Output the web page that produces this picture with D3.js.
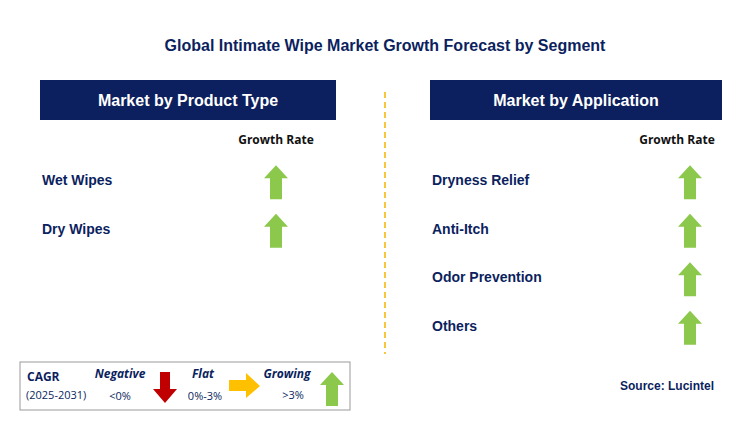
<!DOCTYPE html>
<html><head><meta charset="utf-8">
<script src="https://cdn.jsdelivr.net/npm/d3@7"></script>
<style>body{margin:0;background:#fff}</style>
</head><body><svg id="chart"></svg>
<script>
const title = 'Global Intimate Wipe Market Growth Forecast by Segment';
const productTypes = ['Wet Wipes', 'Dry Wipes'];
const productGrowth = ['up', 'up'];
const applications = ['Dryness Relief', 'Anti-Itch', 'Odor Prevention', 'Others'];
const applicationGrowth = ['up', 'up', 'up', 'up'];

const width = 746, height = 429;
const navy = '#0c1f5e', green = '#8cc84b';
const svg = d3.select('#chart').attr('width', width).attr('height', height)
  .style('font-family', 'Arial, "Liberation Sans", sans-serif');

svg.append('text').attr('x', 385).attr('y', 51).attr('text-anchor', 'middle')
  .attr('fill', navy).attr('font-size', 16).attr('font-weight', 'bold').text(title);

// row positions shared by both panels
const y = d3.scaleBand().domain(d3.range(4)).range([156, 350]);

function upArrow(g, cx, cy) {
  g.append('path').attr('fill', green)
    .attr('d', `M${cx},${cy - 17} L${cx + 12},${cy - 4} L${cx + 6},${cy - 4} L${cx + 6},${cy + 17} L${cx - 6},${cy + 17} L${cx - 6},${cy - 4} L${cx - 12},${cy - 4} Z`);
}

function panel(x0, w, header, names, growth, arrowX, labelX) {
  const g = svg.append('g');
  g.append('rect').attr('x', x0).attr('y', 80).attr('width', w).attr('height', 40).attr('fill', navy);
  g.append('text').attr('x', x0 + w / 2).attr('y', 106).attr('text-anchor', 'middle')
    .attr('fill', '#fff').attr('font-size', 16).attr('font-weight', 'bold').text(header);
  g.append('text').attr('x', labelX).attr('y', 144).attr('text-anchor', 'middle')
    .attr('font-family', 'Open Sans, sans-serif').attr('font-size', 12).attr('font-weight', 'bold')
    .attr('fill', '#111').text('Growth Rate');
  names.forEach((n, i) => {
    const cy = y(i) + y.bandwidth() / 2;
    g.append('text').attr('x', x0 + 2).attr('y', cy + 5).attr('fill', navy)
      .attr('font-size', 14).attr('font-weight', 'bold').text(n);
    if (growth[i] === 'up') upArrow(g, arrowX, cy + 2);
  });
}
panel(40, 296, 'Market by Product Type', productTypes, productGrowth, 276, 276);
panel(430, 292, 'Market by Application', applications, applicationGrowth, 690, 677);

svg.append('line').attr('x1', 385).attr('x2', 385).attr('y1', 92).attr('y2', 354)
  .attr('stroke', '#f5b400').attr('stroke-width', 1.5).attr('stroke-dasharray', '6,4');

// legend
const lg = svg.append('g');
lg.append('rect').attr('x', 20).attr('y', 362).attr('width', 330).attr('height', 48)
  .attr('fill', '#fff').attr('stroke', '#999').attr('stroke-width', 1);
const lt = (x, yy, t, o = {}) => lg.append('text').attr('x', x).attr('y', yy)
  .attr('font-family', 'Open Sans, sans-serif').attr('font-size', o.s || 11)
  .attr('font-weight', o.b ? 'bold' : 'normal').attr('font-style', o.i ? 'italic' : 'normal')
  .attr('fill', navy).attr('text-anchor', o.a || 'start').text(t);
lt(27, 381, 'CAGR', {b: true, s: 12});
lt(26, 399, '(2025-2031)', {s: 11});
lt(120, 378, 'Negative', {b: true, i: true, s: 12, a: 'middle'});
lt(120, 400, '<0%', {s: 11, a: 'middle'});
lt(203, 378, 'Flat', {b: true, i: true, s: 12, a: 'middle'});
lt(205, 400, '0%-3%', {s: 11, a: 'middle'});
lt(287, 378, 'Growing', {b: true, i: true, s: 12, a: 'middle'});
lt(293, 399, '>3%', {s: 11, a: 'middle'});
lg.append('path').attr('fill', '#c00000')
  .attr('d', 'M160,372 L170,372 L170,389 L177,389 L165,403 L153,389 L160,389 Z');
lg.append('path').attr('fill', '#ffc000')
  .attr('d', 'M229,380 L246,380 L246,373 L260,386 L246,398 L246,391 L229,391 Z');
upArrow(lg, 332, 389);
svg.append('text').attr('x', 714).attr('y', 390).attr('text-anchor', 'end').attr('fill', navy)
  .attr('font-size', 12).attr('font-weight', 'bold').text('Source: Lucintel');
</script></body></html>
